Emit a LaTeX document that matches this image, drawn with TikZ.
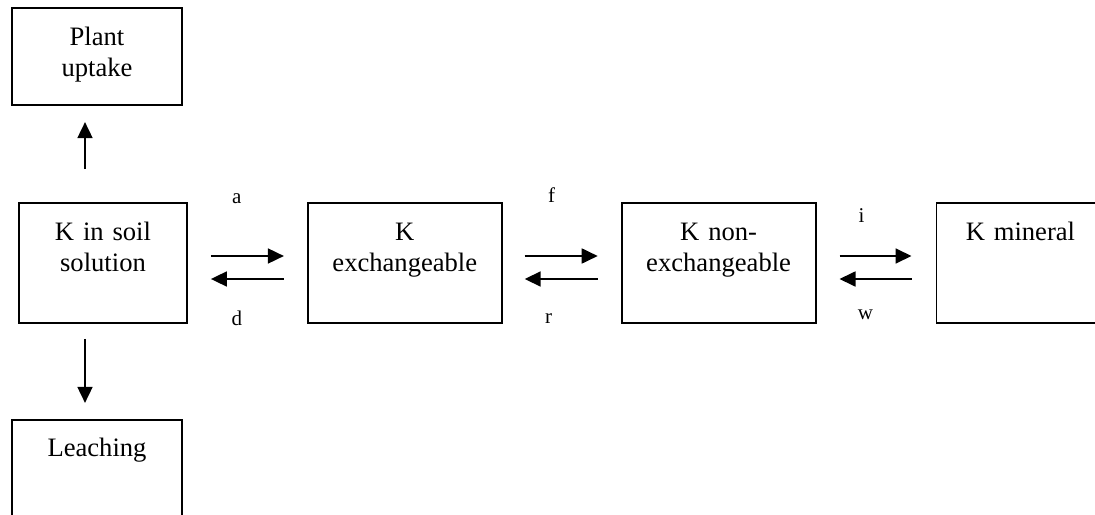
\documentclass[tikz,border=0pt]{standalone}
\usepackage{fontspec}
\setmainfont{Liberation Serif}
\usetikzlibrary{arrows.meta,positioning}

\begin{document}
\begin{tikzpicture}[font=\fontsize{13.3pt}{15.5pt}\selectfont,
  bx/.style={draw,line width=0.9pt,inner sep=0pt,align=center,
             text height=18.5pt,text depth=41.5pt},
  wbx/.style={bx,text width=97pt},
  nbx/.style={bx,text width=84pt},
  sbx/.style={bx,text width=85pt,text depth=30pt},
  ar/.style={-{Triangle[length=8pt,width=7.5pt]},line width=0.9pt},
  lb/.style={font=\fontsize{10.5pt}{12pt}\selectfont,inner sep=0pt},
]
\useasboundingbox (-51.5pt,-125.5pt) rectangle (496pt,131.5pt);

\node[nbx] (soil) at (0,0) {K in soil\\ solution};
\node[wbx,right=59.5pt of soil] (exch) {K\\ exchangeable};
\node[wbx,right=59pt of exch] (nonex) {K non-\\ exchangeable};
\node[nbx,right=59.5pt of nonex] (mineral) {K mineral};
\node[sbx,above=48pt of soil,xshift=-3pt] (plant) {Plant\\ uptake};
\node[sbx,below=47.5pt of soil,xshift=-3pt] (leach) {Leaching};

% vertical fluxes
\draw[ar] ([xshift=-9pt,yshift=16.5pt]soil.north) -- ([xshift=-6pt,yshift=-8pt]plant.south);
\draw[ar] ([xshift=-9pt,yshift=-7.5pt]soil.south) -- ([xshift=-6pt,yshift=8pt]leach.north);

% exchange pairs
\draw[ar] ([xshift=11.5pt,yshift=3.5pt]soil.east) -- ([xshift=-11.5pt,yshift=3.5pt]exch.west);
\draw[ar] ([xshift=-11.5pt,yshift=-8pt]exch.west) -- ([xshift=11.5pt,yshift=-8pt]soil.east);
\draw[ar] ([xshift=11pt,yshift=3.5pt]exch.east) -- ([xshift=-11.5pt,yshift=3.5pt]nonex.west);
\draw[ar] ([xshift=-11.5pt,yshift=-8pt]nonex.west) -- ([xshift=11pt,yshift=-8pt]exch.east);
\draw[ar] ([xshift=11.5pt,yshift=3.5pt]nonex.east) -- ([xshift=-12pt,yshift=3.5pt]mineral.west);
\draw[ar] ([xshift=-12pt,yshift=-8pt]mineral.west) -- ([xshift=11.5pt,yshift=-8pt]nonex.east);

\node[lb] (la) at ([xshift=24.5pt,yshift=32pt]soil.east) {a};
\node[lb] (ld) at ([xshift=24.5pt,yshift=-27.5pt]soil.east) {d};
\node[lb] (lf) at ([xshift=24.5pt,yshift=34pt]exch.east) {f};
\node[lb] (lr) at ([xshift=23pt,yshift=-28pt]exch.east) {r};
\node[lb] (li) at ([xshift=22.5pt,yshift=23.5pt]nonex.east) {i};
\node[lb] (lw) at ([xshift=24.5pt,yshift=-26pt]nonex.east) {w};
\end{tikzpicture}
\end{document}
